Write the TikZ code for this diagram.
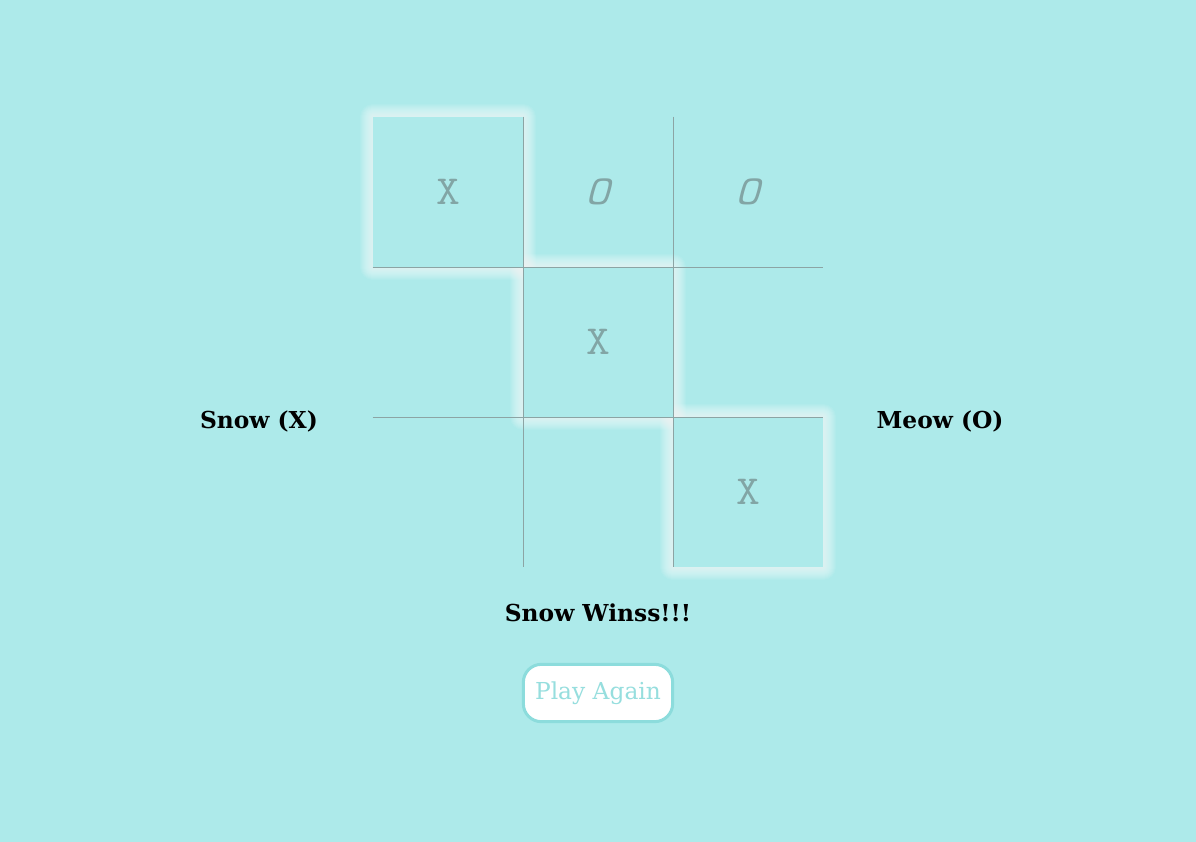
\documentclass[tikz,border=0pt]{standalone}
\usepackage{fontspec}
\setmainfont{DejaVu Serif}
\newfontfamily\markfont{Latin Modern Mono}[FakeStretch=1.12]
\definecolor{board}{RGB}{173,234,234}
\definecolor{gridline}{RGB}{140,164,164}
\definecolor{markgrey}{RGB}{130,165,165}
\definecolor{btnedge}{RGB}{140,220,220}
\definecolor{btntext}{RGB}{150,222,222}
\begin{document}
\begin{tikzpicture}[x=0.75pt,y=-0.75pt,
  cell/.style={minimum size=112.5pt,inner sep=0pt,text=markgrey,
    font=\markfont\fontsize{31}{31}\selectfont},
  win/.style={cell,fill=board},
  player/.style={font=\bfseries\fontsize{17.5}{20}\selectfont},
  glow/.style={white,opacity=0.07,line join=round},
  button/.style={draw=btnedge,line width=2.25pt,fill=white,rounded corners=13.5pt,
    minimum width=112pt,minimum height=43pt,text=btntext,font=\fontsize{17.5}{20}\selectfont}]

\fill[board] (0,0) rectangle (1196,842);
\useasboundingbox (0,0) rectangle (1196,842);

\foreach \cx/\cy in {448/192,598/342,748/492}
  \foreach \w in {2,4,...,26}
    \draw[glow,line width=\w*0.75pt] (\cx-75,\cy-75) rectangle (\cx+75,\cy+75);

\node[win]  (c11) at (448,192) {X};
\node[cell] (c12) at (598,192) {\itshape O};
\node[cell] (c13) at (748,192) {\itshape O};
\node[cell] (c21) at (448,342) {};
\node[win]  (c22) at (598,342) {X};
\node[cell] (c23) at (748,342) {};
\node[cell] (c31) at (448,492) {};
\node[cell] (c32) at (598,492) {};
\node[win]  (c33) at (748,492) {X};

\begin{scope}[gridline,line width=0.75pt]
\draw (c11.north east) -- (c31.south east);
\draw (c12.north east) -- (c32.south east);
\draw (c11.south west) -- (c13.south east);
\draw (c21.south west) -- (c23.south east);
\end{scope}

\node[player] (snow) at (259,421) {Snow (X)};
\node[player] (meow) at (940,421) {Meow (O)};
\node[player] (result) at (598,613) {Snow Winss!!!};
\node[button] (again) at (598,693) {Play Again};

\end{tikzpicture}
\end{document}
